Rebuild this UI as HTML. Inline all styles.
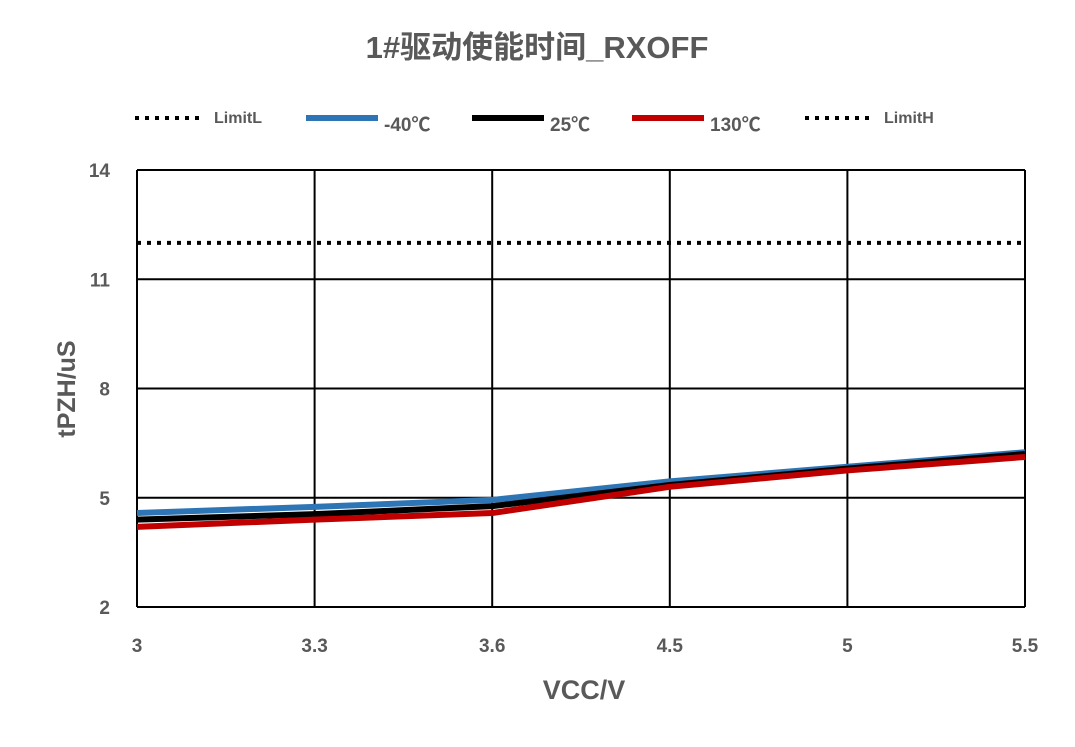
<!DOCTYPE html>
<html><head><meta charset="utf-8"><style>
body{margin:0;background:#fff;}
svg text{font-family:"Liberation Sans","Noto Sans CJK SC",sans-serif;font-weight:bold;fill:#595959;}
</style></head><body>
<svg id="chart" width="1075" height="742">
<text x="537" y="58" text-anchor="middle" font-size="31">1#驱动使能时间_RXOFF</text>
<g id="legend">
 <g><line x1="135" y1="118" x2="205" y2="118" stroke="#000" stroke-width="4" stroke-dasharray="4,6"/><text x="214" y="123" font-size="16">LimitL</text></g>
 <g><line x1="306" y1="118" x2="378" y2="118" stroke="#2e75b6" stroke-width="6"/><text x="384" y="131" font-size="19">-40℃</text></g>
 <g><line x1="472" y1="118" x2="544" y2="118" stroke="#000" stroke-width="6"/><text x="550" y="131" font-size="19">25℃</text></g>
 <g><line x1="632" y1="118" x2="704" y2="118" stroke="#c00000" stroke-width="6"/><text x="710" y="131" font-size="19">130℃</text></g>
 <g><line x1="805" y1="118" x2="875" y2="118" stroke="#000" stroke-width="4" stroke-dasharray="4,6"/><text x="884" y="123" font-size="16">LimitH</text></g>
</g>
<g id="plot"></g>
<text x="584" y="699" text-anchor="middle" font-size="27">VCC/V</text>
<text transform="translate(75,389) rotate(-90)" text-anchor="middle" font-size="25">tPZH/uS</text>
</svg>
<script>
const categories=["3","3.3","3.6","4.5","5","5.5"];
const yTicks=[2,5,8,11,14];
const seriesM40=[4.58,4.75,4.94,5.45,5.85,6.25];
const series25=[4.4,4.55,4.77,5.35,5.8,6.2];
const series130=[4.2,4.4,4.58,5.3,5.75,6.12];
const limitH=12;
const limitL=0;
const NS="http://www.w3.org/2000/svg";
const L=137,R=1025,T=170,B=607,yMin=2,yMax=14;
const xs=i=>L+(R-L)*i/(categories.length-1);
const ys=v=>B-(v-yMin)/(yMax-yMin)*(B-T);
const g=document.getElementById('plot');
function mk(t,a){const e=document.createElementNS(NS,t);for(const k in a)e.setAttribute(k,a[k]);g.appendChild(e);return e;}
yTicks.forEach(v=>{
 const l=mk('line',{x1:L,x2:R,y1:ys(v),y2:ys(v),stroke:'#000','stroke-width':2});
 
 
 const t=mk('text',{x:L-27,y:ys(v)+7,'text-anchor':'end','font-size':19});t.textContent=v;
 
 
});
categories.forEach((c,i)=>{
 const l=mk('line',{x1:xs(i),x2:xs(i),y1:T,y2:B,stroke:'#000','stroke-width':2});
 
 
 const t=mk('text',{x:xs(i),y:B+45,'text-anchor':'middle','font-size':19});t.textContent=c;
 
 
});
function lim(v,name){if(v<yMin||v>yMax)return;
 const l=mk('line',{x1:L,x2:R,y1:ys(v),y2:ys(v),stroke:'#000','stroke-width':4,'stroke-dasharray':'4,6'});
 
 }
lim(limitL,'limitl-line');lim(limitH,'limith-line');
function series(d,col,name){
 const p=mk('polyline',{points:d.map((v,i)=>xs(i)+','+ys(v)).join(' '),fill:'none',stroke:col,'stroke-width':6,'stroke-linejoin':'round'});
 
 }
series(seriesM40,'#2e75b6','series-minus40');
series(series25,'#000','series-25');
series(series130,'#c00000','series-130');
</script>
</body></html>
